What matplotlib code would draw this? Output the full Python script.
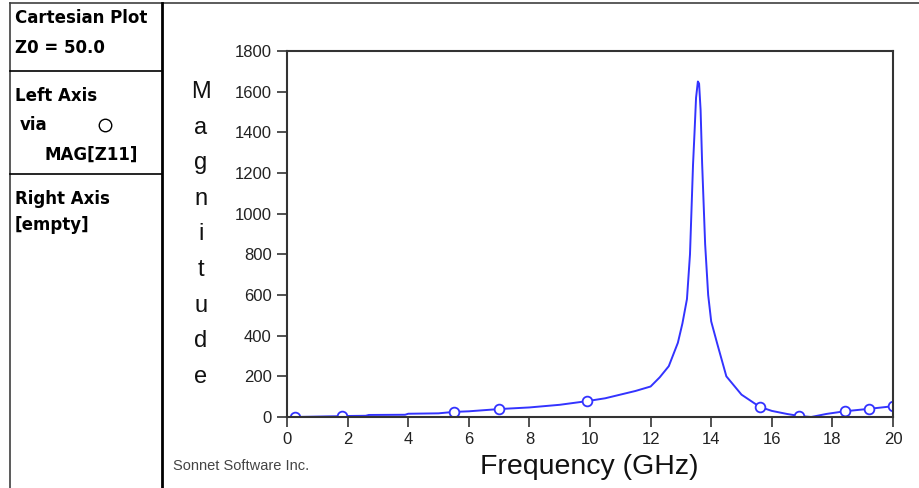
import matplotlib.pyplot as plt
from matplotlib.lines import Line2D

# --- data ---
freq = [0.25, 1.35, 1.8, 2.0, 2.6, 2.7, 3.9, 4.0, 5.0, 5.5, 6.0, 7.0, 7.5, 8.0,
        9.0, 9.9, 10.5, 11.0, 11.5, 12.0, 12.3, 12.6, 12.9, 13.05, 13.2, 13.3,
        13.4, 13.45, 13.5, 13.56, 13.6, 13.65, 13.7, 13.8, 13.9, 14.0, 14.2,
        14.5, 15.0, 15.6, 16.0, 16.5, 16.9, 17.3, 17.8, 18.4, 19.2, 20.0]
mag = [0, 3, 4, 5, 6, 10, 11, 16, 18, 25, 28, 39, 43, 47,
       60, 78, 92, 110, 128, 150, 195, 250, 365, 460, 580, 800,
       1240, 1400, 1570, 1650, 1640, 1510, 1250, 850, 600, 470, 360,
       200, 110, 50, 30, 15, 5, 0, 15, 28, 40, 53]

marker_freq = [0.25, 1.8, 5.5, 7.0, 9.9, 15.6, 16.9, 18.4, 19.2, 20.0]
marker_mag = [0, 4, 25, 39, 78, 50, 5, 28, 40, 53]

xticks = list(range(0, 21, 2))
yticks = list(range(0, 1801, 200))

W, H = 919, 488
BLUE = '#3333ff'
plt.rcParams['font.family'] = ['Liberation Sans', 'DejaVu Sans']


def fx(px):
    return px / W


def fy(py):
    return 1 - py / H


fig = plt.figure(figsize=(W / 100, H / 100), dpi=100)
ax = fig.add_axes([fx(287), fy(417), fx(893) - fx(287), fy(51) - fy(417)])

ax.plot(freq, mag, color=BLUE, lw=1.4)
ax.plot(marker_freq, marker_mag, 'o', ms=7, mfc='white', mec=BLUE, mew=1.3)

ax.set_xlim(0, 20)
ax.set_ylim(0, 1800)
ax.set_xticks(xticks)
ax.set_yticks(yticks)
ax.tick_params(direction='out', length=7, width=1.2, color='#333333',
               labelsize=12, labelcolor='#222222', pad=4)
for s in ax.spines.values():
    s.set_color('#333333')
    s.set_linewidth(1.5)

# stacked y label
for i, ch in enumerate('Magnitude'):
    fig.text(fx(201), fy(92 + i * 35.6), ch, fontsize=17, ha='center',
             va='center', color='#111111')

fig.text(fx(589), fy(467), 'Frequency (GHz)', fontsize=20.5, ha='center',
         va='center', color='#111111')
fig.text(fx(173), fy(466), 'Sonnet Software Inc.', fontsize=10.5,
         ha='left', va='center', color='#444444')

# frame lines around the info panel
def fig_line(x0, y0, x1, y1, c='#404040', lw=1.2):
    fig.add_artist(Line2D([fx(x0), fx(x1)], [fy(y0), fy(y1)], color=c, lw=lw))


fig_line(10, 3, W, 3)
fig_line(10, 3, 10, H)
fig_line(162, 3, 162, H, c='black', lw=2)
fig_line(10, 71, 162, 71, c='black')
fig_line(10, 174, 162, 174, c='black')

bold = dict(fontsize=12, fontweight='bold', ha='left', va='center',
            color='black', family='DejaVu Sans')
fig.text(fx(15), fy(18), 'Cartesian Plot', **bold)
fig.text(fx(15), fy(48), 'Z0 = 50.0', **bold)
fig.text(fx(15), fy(96), 'Left Axis', **bold)
fig.text(fx(20), fy(125), 'via', **bold)
fig.text(fx(44), fy(155), 'MAG[Z11]', **bold)
fig.text(fx(15), fy(199), 'Right Axis', **bold)
fig.text(fx(15), fy(225), '[empty]', **bold)
fig.add_artist(Line2D([fx(105)], [fy(125)], marker='o', ms=9, mfc='white',
                      mec='black', mew=1.0))

fig.savefig('out.png', dpi=100)
